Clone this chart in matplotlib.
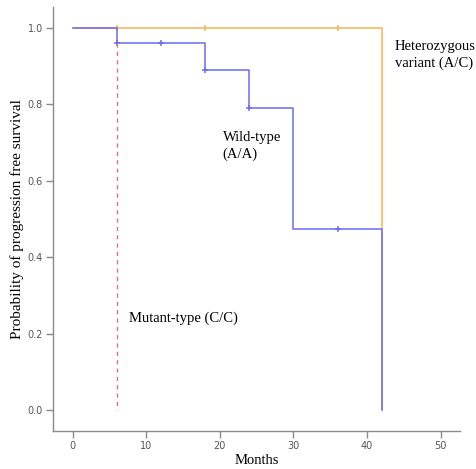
import numpy as np
import matplotlib.pyplot as plt

# Kaplan-Meier steps
wild_t = [0, 6, 18, 24, 30, 42]
wild_s = [1.0, 0.96, 0.89, 0.79, 0.475, 0.0]
wild_cens_t = [6, 12, 18, 24, 36]
wild_cens_s = [0.96, 0.96, 0.89, 0.79, 0.475]

het_t = [0, 42]
het_s = [1.0, 0.0]
het_cens_t = [6, 18, 36]
het_cens_s = [1.0, 1.0, 1.0]

mut_t = 6
mut_s = [0.96, 0.0]

xticks = [0, 10, 20, 30, 40, 50]
yticks = [0.0, 0.2, 0.4, 0.6, 0.8, 1.0]

blue = '#6a6cf0'
orange = '#f4b650'
red = '#e2707e'
grey = '#8a8a8a'

fig = plt.figure(figsize=(4.76, 4.69), dpi=100)
ax = fig.add_axes([0.111, 0.081, 0.855, 0.904])

ax.step(het_t + [het_t[-1]], het_s[:1] + [het_s[0]] + [het_s[-1]], where='post', color=orange, lw=1.1)
ax.plot(het_cens_t, het_cens_s, '|', color=orange, ms=5, mew=1.1)

ax.step(wild_t, wild_s, where='post', color=blue, lw=1.1)
ax.plot(wild_cens_t, wild_cens_s, '+', color=blue, ms=5, mew=1.1)

ax.plot([mut_t, mut_t], mut_s, color=red, lw=1.0, ls=(0, (3, 3)))

ax.set_xlim(-2.7, 52.6)
ax.set_ylim(-0.055, 1.055)
ax.set_xticks(xticks)
ax.set_yticks(yticks)
ax.set_xticklabels([str(v) for v in xticks])
ax.set_yticklabels(['%.1f' % v for v in yticks])

for s in ['top', 'right']:
    ax.spines[s].set_visible(False)
for s in ['left', 'bottom']:
    ax.spines[s].set_color(grey)
    ax.spines[s].set_linewidth(1.0)
ax.tick_params(direction='out', length=5, width=1.0, color=grey, labelsize=7,
               labelcolor='#555555', pad=2)

ax.set_xlabel('Months', family='Liberation Serif', fontsize=10.5, labelpad=2)
ax.set_ylabel('Probability of progression free survival', family='Liberation Serif',
              fontsize=11, labelpad=3)

ax.text(43.8, 0.93, 'Heterozygous\nvariant (A/C)', family='Liberation Serif', fontsize=10.5,
        va='center', ha='left', linespacing=1.35, clip_on=False)
ax.text(20.4, 0.69, 'Wild-type\n(A/A)', family='Liberation Serif', fontsize=10.5,
        va='center', ha='left', linespacing=1.35)
ax.text(7.6, 0.24, 'Mutant-type (C/C)', family='Liberation Serif', fontsize=10.5,
        va='center', ha='left')

fig.savefig('out.png', dpi=100)
